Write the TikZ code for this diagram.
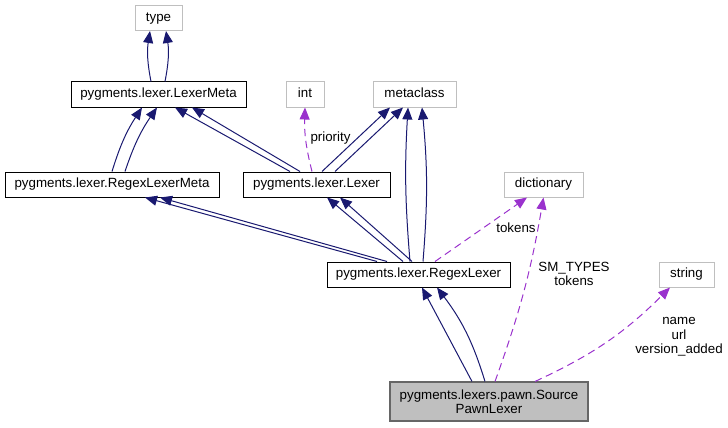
\documentclass[tikz,border=0pt]{standalone}
\usepackage{fontspec}
\setmainfont{Liberation Sans}
\usetikzlibrary{arrows.meta,calc}
\definecolor{edgeblue}{HTML}{191970}
\definecolor{edgepurple}{HTML}{9A32CD}
\definecolor{extgray}{HTML}{BFBFBF}
\definecolor{maingray}{HTML}{666666}

\begin{document}
\begin{tikzpicture}[x=0.75pt,y=-0.75pt,
    font=\fontsize{10}{10.5}\selectfont,
    box/.style={draw,line width=0.75pt,minimum width=#1*0.75pt,minimum height=18.75pt,
      inner sep=0pt,text height=7.3pt,text depth=2.2pt},
    cls/.style={box=#1,draw=black},
    ext/.style={box=#1,draw=extgray},
    inh/.style={draw=edgeblue,line width=0.75pt,-{Triangle[length=9pt,width=7.5pt]}},
    use/.style={draw=edgepurple,line width=0.75pt,dash pattern=on 5.5pt off 3.5pt,
      -{Triangle[length=9pt,width=7.5pt]}},
    lbl/.style={align=center,inner sep=0pt}]
  \useasboundingbox (0,0) rectangle (728,428);

  % classes
  \node[ext=47]  (type)       at (158.5,18)   {type};
  \node[cls=175] (lexermeta)  at (158.5,94.5) {pygments.lexer.LexerMeta};
  \node[ext=38]  (int)        at (305,94.5)   {int};
  \node[ext=83]  (metaclass)  at (414.5,94.5) {metaclass};
  \node[cls=214] (rxmeta)     at (112,184.5)  {pygments.lexer.RegexLexerMeta};
  \node[cls=147] (lexer)      at (316.5,184.5) {pygments.lexer.Lexer};
  \node[ext=79]  (dictionary) at (543.5,184.5) {dictionary};
  \node[cls=183] (rxlexer)    at (418.5,274.5) {pygments.lexer.RegexLexer};
  \node[ext=55]  (string)     at (686.5,274.5) {string};
  \node[draw=maingray,fill=extgray,line width=0.8pt,minimum width=198*0.75pt,
    minimum height=29.25pt,inner sep=0pt,align=center] (pawn) at (489,401.5)
    {pygments.lexers.pawn.Source\\PawnLexer};

  % inheritance
  \draw[inh] ($(lexermeta.north)+(-7.5,0)$) to[bend left=10] ($(type.south)+(-8.5,0)$);
  \draw[inh] ($(lexermeta.north)+(6.5,0)$) to[bend right=10] ($(type.south)+(7.5,0)$);
  \draw[inh] ($(rxmeta.north)+(0,0)$) to[bend left=8] ($(lexermeta.south)+(-16.5,0)$);
  \draw[inh] ($(rxmeta.north)+(13,0)$) to[bend left=8] ($(lexermeta.south)+(-1.5,0)$);
  \draw[inh] ($(lexer.north)+(-26.5,0)$) -- ($(lexermeta.south)+(16.5,0)$);
  \draw[inh] ($(lexer.north)+(-16.5,0)$) -- ($(lexermeta.south)+(33.5,0)$);
  \draw[inh] ($(lexer.north)+(5.5,0)$) -- ($(metaclass.south)+(-24.5,0)$);
  \draw[inh] ($(lexer.north)+(18.5,0)$) -- ($(metaclass.south)+(-11.5,0)$);
  \draw[inh] ($(rxlexer.north)+(-41.5,0)$) -- ($(rxmeta.south)+(33,0)$);
  \draw[inh] ($(rxlexer.north)+(-31.5,0)$) -- ($(rxmeta.south)+(48,0)$);
  \draw[inh] ($(rxlexer.north)+(-15.5,0)$) -- ($(lexer.south)+(10.5,0)$);
  \draw[inh] ($(rxlexer.north)+(-6.5,0)$) -- ($(lexer.south)+(23.5,0)$);
  \draw[inh] ($(rxlexer.north)+(-8.5,0)$) to[bend left=4] ($(metaclass.south)+(-6.5,0)$);
  \draw[inh] ($(rxlexer.north)+(4.5,0)$) to[bend right=5] ($(metaclass.south)+(7.5,0)$);
  \draw[inh] ($(pawn.north)+(-17,0)$) -- ($(rxlexer.south)+(3.5,0)$);
  \draw[inh] ($(pawn.north)+(-4,0)$) to[bend right=10] ($(rxlexer.south)+(18.5,0)$);

  % usage
  \draw[use] ($(lexer.north)+(-4.5,0)$) to[bend left=8] (int.south);
  \draw[use] ($(rxlexer.north)+(16.5,0)$) -- ($(dictionary.south)+(-16.5,0)$);
  \draw[use] ($(pawn.north)+(6,0)$) to[bend right=5] (dictionary.south);
  \draw[use] ($(pawn.north)+(46,0)$) to[bend right=10] ($(string.south)+(-16.5,0)$);

  \node[lbl] (lpriority) at (330.5,138) {priority};
  \node[lbl] (ltokens)   at (516,228)   {tokens};
  \node[lbl] (lsmtypes)  at (574,274)   {SM\_TYPES\\tokens};
  \node[lbl,font=\fontsize{10}{10.9}\selectfont] (lname) at (679,337) {name\\url\\version\_added};
\end{tikzpicture}
\end{document}
